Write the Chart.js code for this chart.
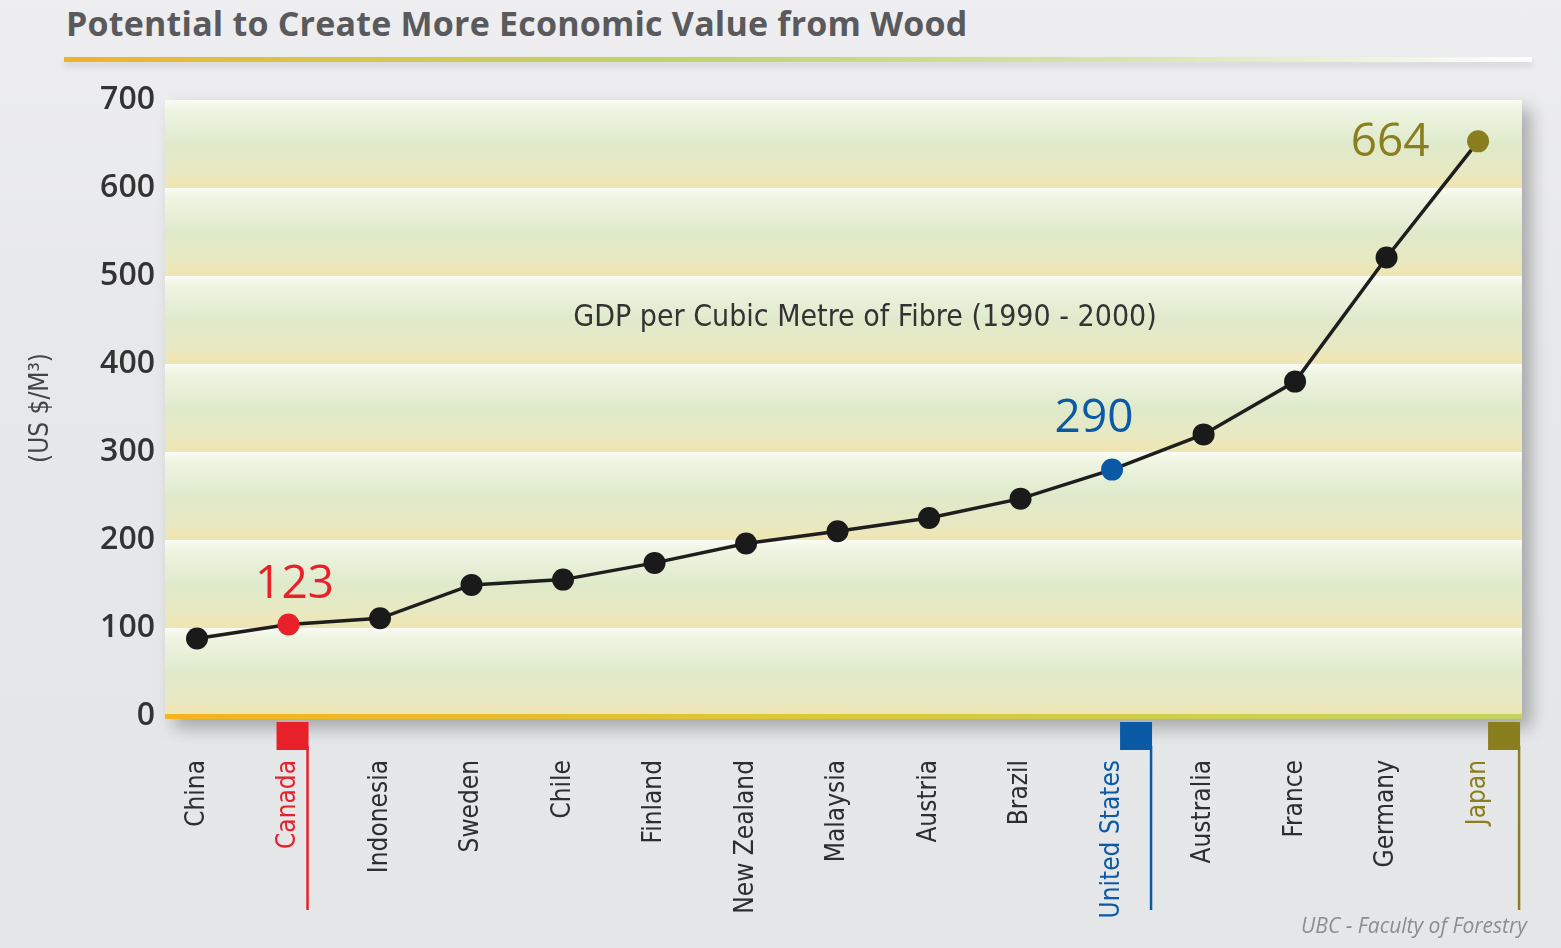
<!DOCTYPE html>
<html>
<head>
<meta charset="utf-8">
<title>Potential to Create More Economic Value from Wood</title>
<script src="https://cdn.jsdelivr.net/npm/chart.js@4.4.1/dist/chart.umd.min.js"></script>
<style>
  html, body { margin: 0; padding: 0; }
  body {
    width: 1561px; height: 948px; overflow: hidden; position: relative;
    background: linear-gradient(180deg, #eeeef0 0%, #e7e8ea 35%, #e5e6e8 100%);
    font-family: "Open Sans", sans-serif;
  }
  #title {
    position: absolute; left: 66px; top: 0px;
    font-size: 34px; font-weight: 700; color: #5a5a5c; white-space: nowrap; letter-spacing: 0.2px;
  }
  #rule {
    position: absolute; left: 64px; top: 57px; width: 1468px; height: 5px;
    background: linear-gradient(90deg, #f2b12a 0%, #dcc246 14%, #bdd46e 42%, #d6e4ac 72%, rgba(255,255,255,0.95) 100%);
    box-shadow: 0 4px 6px rgba(0, 0, 0, 0.12);
  }
  #chart { position: absolute; left: 0; top: 0; }
  #credit {
    position: absolute; right: 34px; top: 911px;
    font-style: italic; font-size: 21px; color: #8d8d90; white-space: nowrap;
  }
</style>
</head>
<body>
<div id="title">Potential to Create More Economic Value from Wood</div>
<div id="rule"></div>
<canvas id="chart" width="1561" height="948"></canvas>
<div id="credit">UBC - Faculty of Forestry</div>
<script>
const countries = ["China", "Canada", "Indonesia", "Sweden", "Chile", "Finland", "New Zealand",
  "Malaysia", "Austria", "Brazil", "United States", "Australia", "France", "Germany", "Japan"];
const gdpPerM3 = [88, 104, 111, 149, 155, 174, 196, 210, 225, 247, 280, 320, 380, 521, 653];
const calloutText = ["", "123", "", "", "", "", "", "", "", "", "290", "", "", "", "664"];
const yTicks = [0, 100, 200, 300, 400, 500, 600, 700];
const seriesTitle = "GDP per Cubic Metre of Fibre (1990 - 2000)";
const seriesTitleAt = { x: 7.3, y: 452 };

const narrow = "'Liberation Sans Narrow', 'DejaVu Sans Condensed', 'Open Sans', sans-serif";
const highlightColor = { 1: "#e8202a", 10: "#0b5aa6", 14: "#8a7e1e" };
const calloutOffset = { 1: [6, -40], 10: [-18, -51], 14: [-88, 2] };
const markerShift = { 1: 0, 10: 20, 14: 22 };

const plotBands = {
  id: "plotBands",
  beforeDraw(chart) {
    const { ctx, chartArea: a, scales: { y } } = chart;
    ctx.save();
    ctx.shadowColor = "rgba(0, 0, 0, 0.28)";
    ctx.shadowBlur = 16;
    ctx.shadowOffsetX = 9;
    ctx.shadowOffsetY = 9;
    ctx.fillStyle = "#e8eed4";
    ctx.fillRect(a.left, a.top, a.width, a.bottom - a.top + 3);
    ctx.restore();

    for (let i = 0; i < yTicks.length - 1; i++) {
      const top = y.getPixelForValue(yTicks[i + 1]);
      const bottom = y.getPixelForValue(yTicks[i]);
      const g = ctx.createLinearGradient(0, top, 0, bottom);
      g.addColorStop(0, "#fbfcf5");
      g.addColorStop(0.1, "#eff5e3");
      g.addColorStop(0.5, "#dfeacb");
      g.addColorStop(0.8, "#e7e9c2");
      g.addColorStop(1, "#f0e5b2");
      ctx.fillStyle = g;
      ctx.fillRect(a.left, top, a.width, bottom - top);
    }

    const lg = ctx.createLinearGradient(a.left, 0, a.right, 0);
    lg.addColorStop(0, "#f5b31c");
    lg.addColorStop(0.5, "#d9c937");
    lg.addColorStop(1, "#c2d463");
    ctx.fillStyle = lg;
    ctx.fillRect(a.left, a.bottom - 2, a.width, 5);
  },
  afterDraw(chart) {
    const { ctx, chartArea: a, scales: { x, y } } = chart;
    ctx.save();
    Object.keys(highlightColor).forEach((k) => {
      const i = Number(k);
      const px = x.getPixelForValue(i) + (markerShift[k] || 0);
      ctx.fillStyle = highlightColor[k];
      ctx.fillRect(px - 12, a.bottom + 6, 32, 28);
      ctx.strokeStyle = highlightColor[k];
      ctx.lineWidth = 2.5;
      ctx.beginPath();
      ctx.moveTo(px + 19, a.bottom + 30);
      ctx.lineTo(px + 19, a.bottom + 194);
      ctx.stroke();
    });

    ctx.fillStyle = "#333";
    ctx.font = "30px " + narrow;
    ctx.textAlign = "center";
    ctx.textBaseline = "middle";
    ctx.fillText(seriesTitle, x.getPixelForValue(seriesTitleAt.x), y.getPixelForValue(seriesTitleAt.y));

    const meta = chart.getDatasetMeta(0);
    ctx.font = "46px 'Open Sans', sans-serif";
    calloutText.forEach((t, i) => {
      if (!t) return;
      const pt = meta.data[i];
      const off = calloutOffset[i] || [0, -40];
      ctx.fillStyle = highlightColor[i] || "#333";
      ctx.fillText(t, pt.x + off[0], pt.y + off[1]);
    });
    ctx.restore();
  },
};

new Chart(document.getElementById("chart"), {
  type: "line",
  data: {
    datasets: [{
      data: gdpPerM3.map((v, i) => ({ x: i, y: v })),
      borderColor: "#1e1e1e",
      borderWidth: 3.5,
      tension: 0,
      pointRadius: 11,
      pointHoverRadius: 11,
      pointBorderWidth: 0,
      pointBackgroundColor: (c) => highlightColor[c.dataIndex] || "#1a1a1a",
      clip: false,
    }],
  },
  options: {
    responsive: false,
    animation: false,
    devicePixelRatio: 1,
    layout: { padding: { left: 22, right: 39, top: 100, bottom: 0 } },
    plugins: { legend: { display: false }, tooltip: { enabled: false } },
    scales: {
      x: {
        type: "linear",
        min: -0.35,
        max: 14.48,
        afterBuildTicks: (scale) => {
          scale.ticks = countries.map((_, i) => ({ value: i }));
        },
        afterFit: (scale) => { scale.height = 948 - 716; },
        grid: { display: false, drawTicks: false },
        border: { display: false },
        ticks: {
          autoSkip: false,
          minRotation: 90,
          maxRotation: 90,
          padding: 44,
          font: { family: narrow, size: 26 },
          color: (c) => highlightColor[c.tick.value] || "#2e2e2e",
          callback: (v) => countries[v],
        },
      },
      y: {
        min: 0,
        max: 700,
        afterBuildTicks: (scale) => {
          scale.ticks = yTicks.map((v) => ({ value: v }));
        },
        afterFit: (scale) => { scale.width = 165 - 22; },
        grid: { display: false, drawTicks: false },
        border: { display: false },
        ticks: {
          padding: 10,
          font: { family: "'Open Sans', sans-serif", size: 32, weight: "600" },
          color: "#333",
        },
        title: {
          display: true,
          text: "(US $/M³)",
          font: { family: narrow, size: 26 },
          color: "#444",
          padding: { top: 4, bottom: 0 },
        },
      },
    },
  },
  plugins: [plotBands],
});
</script>
</body>
</html>
